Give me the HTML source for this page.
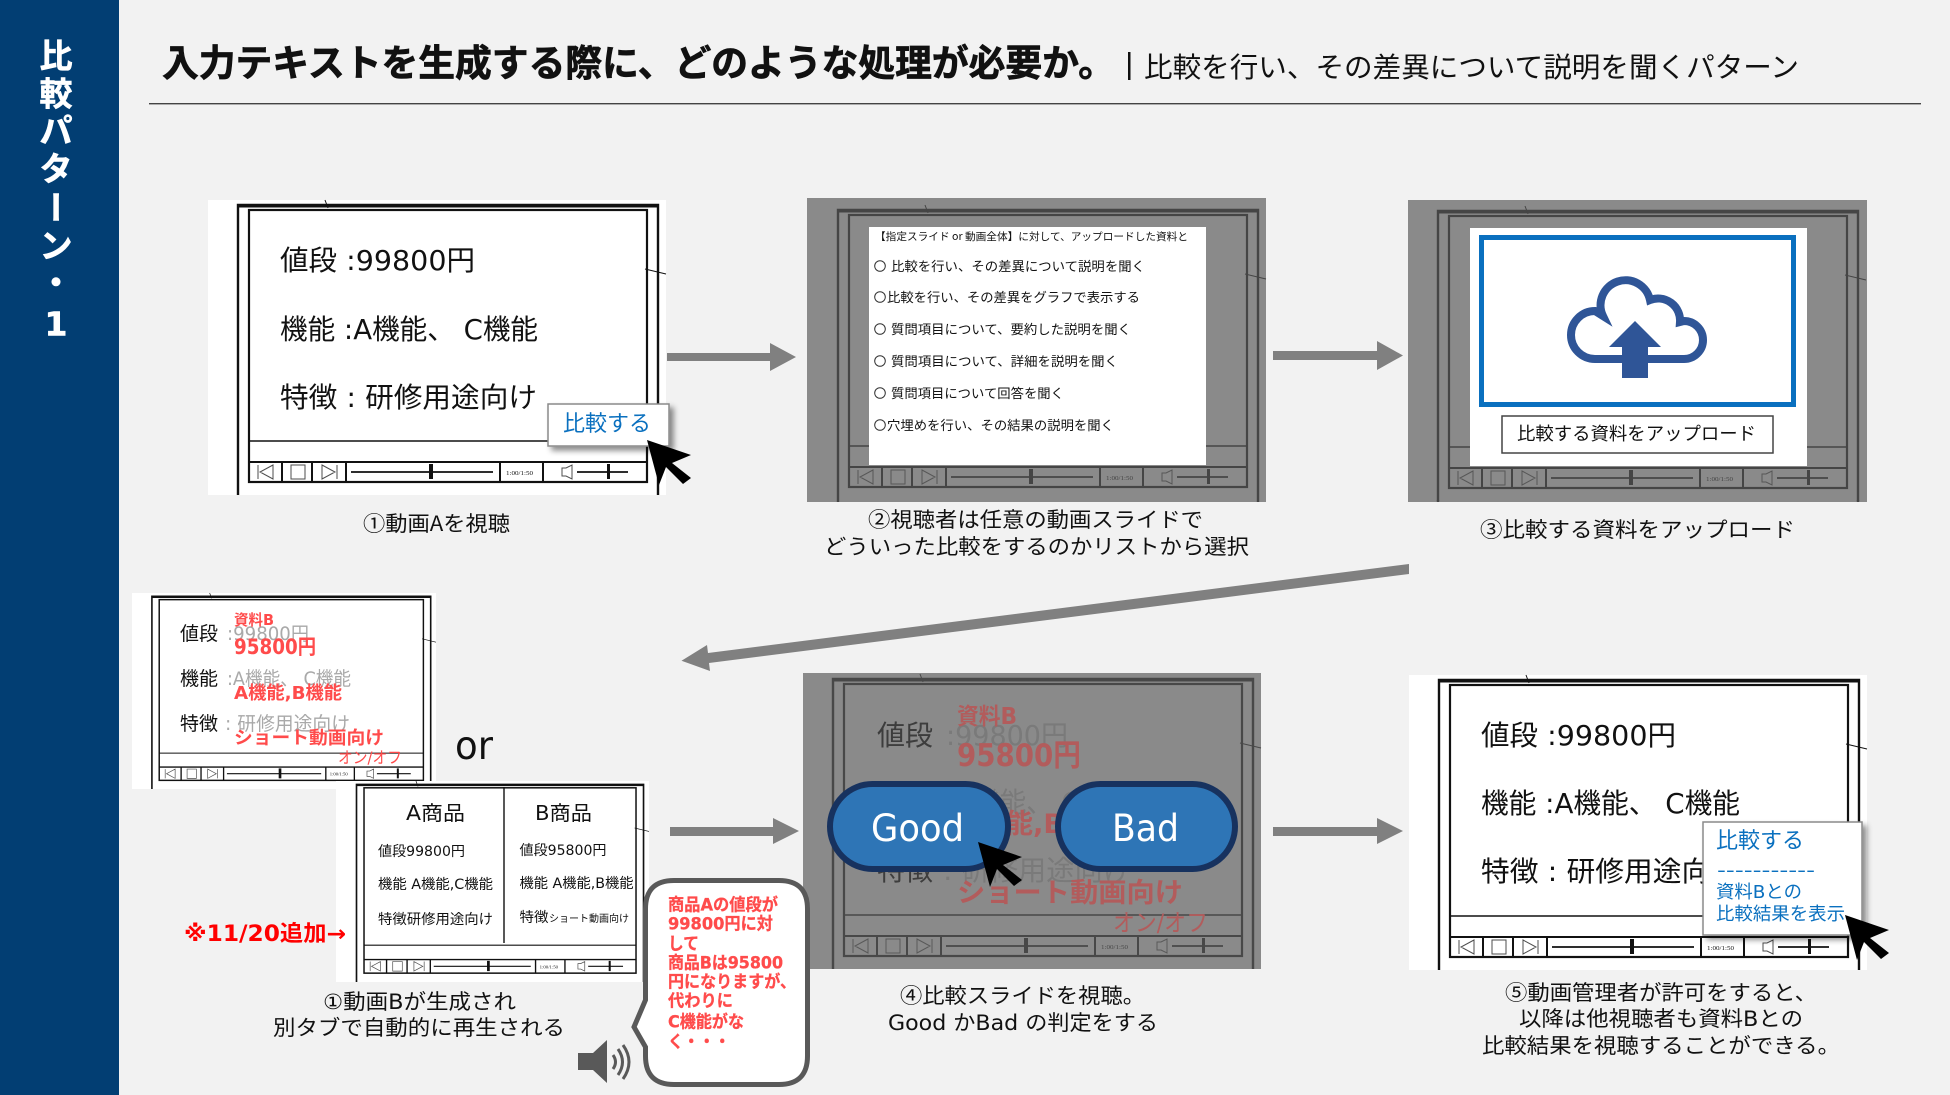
<!DOCTYPE html>
<html lang="ja"><head><meta charset="utf-8"><title>比較パターン・1</title>
<style>
html,body{margin:0;padding:0;background:#f2f2f2}
svg{display:block}
text{font-family:"DejaVu Sans","Noto Sans CJK JP",sans-serif;fill:#111}
.j{font-family:"Noto Sans CJK JP",sans-serif}
.b{font-weight:700}
.r{fill:#ff4b4b}
.g{fill:#a9a9a9}
.bl{fill:#0a70bf}
.dr{fill:#b25c5c}
.dg{fill:#7a7a7a}
.dk{fill:#3d3d3d}
.s text{fill:#fff;stroke:#fff;stroke-width:.6}
.tt{stroke:#111;stroke-width:.7}
.hv{stroke:#ff4b4b;stroke-width:.3}
</style></head><body>
<svg xmlns="http://www.w3.org/2000/svg" width="1950" height="1095" viewBox="0 0 1950 1095">
<defs>
<filter id="sh" x="-20%" y="-20%" width="150%" height="150%"><feDropShadow dx="4" dy="4" stdDeviation="3" flood-color="#000" flood-opacity=".45"/></filter>
<symbol id="wf" viewBox="0 0 458 295" preserveAspectRatio="none" overflow="visible">
<g fill="none" stroke="currentColor">
<path d="M30 295V5H450V295" stroke-width="2.4"/>
<path d="M30 6H450" stroke-width="3"/>
<path d="M117 0l3 8M437 69l21 5" stroke-width="1"/>
<rect x="41" y="10" width="398" height="272" stroke-width="2.2"/>
<path d="M41 241H439" stroke-width="1.6"/>
<path d="M41 262H439M74 262V282M104 262V282M138 262V282M292 262V282M335 262V282" stroke-width="2"/>
<path d="M50 265V279M65 265L52 272L65 279Z M83 265h14v14h-14Z M129 265V279M114 265L127 272L114 279Z M354 268h4l6-3v14l-6-3h-4Z" stroke-width="1" opacity=".75"/>
<path d="M143 272H285M369 272H420" stroke-width="1.7"/>
</g>
<rect x="221" y="264" width="4" height="15" fill="currentColor"/>
<rect x="399" y="264" width="3" height="15" fill="currentColor"/>
<text x="298" y="275" font-size="6" textLength="27" lengthAdjust="spacingAndGlyphs" style="font-family:'Liberation Serif',serif;fill:currentColor">1:00/1:50</text>
</symbol>
<polygon id="cur" points="0,0 44,15 25,23 44,38 36,44 19,27 12,45" fill="#000"/>
</defs>

<rect width="1950" height="1095" fill="#f2f2f2"/>
<rect width="119" height="1095" fill="#023e73"/>
<g class="s b" font-size="33" text-anchor="middle">
<text x="56" y="67.5" class="b">比</text>
<text x="56" y="105.5" class="b">較</text>
<text x="56" y="142.5" class="b">パ</text>
<text x="56" y="180.5" class="b">タ</text>
<text transform="translate(56,207) rotate(90)" x="0" y="12.5" class="b j">ー</text>
<text x="56" y="257.5" class="b">ン</text>
<text x="56" y="294.5" class="b j">・</text>
<text x="56" y="335.5" class="b">1</text>
</g>

<text x="162" y="76" font-size="37" class="b j tt" textLength="953" lengthAdjust="spacingAndGlyphs">入力テキストを生成する際に、どのような処理が必要か。</text>
<rect x="1128" y="52" width="2.5" height="28" fill="#111"/>
<text x="1144" y="77" font-size="28" class="j" textLength="655" lengthAdjust="spacingAndGlyphs">比較を行い、その差異について説明を聞くパターン</text>
<rect x="149" y="103" width="1772" height="1.4" fill="#444"/>

<!-- Panel 1 -->
<rect x="208" y="200" width="458" height="295" fill="#fff"/>
<use href="#wf" x="208" y="200" width="458" height="295" style="color:#111"/>
<text x="280" y="270" font-size="28" textLength="195" lengthAdjust="spacingAndGlyphs">値段 :99800円</text>
<text x="280" y="339" font-size="28" textLength="258" lengthAdjust="spacingAndGlyphs">機能 :A機能、 C機能</text>
<text x="280" y="407" font-size="28" textLength="257" lengthAdjust="spacingAndGlyphs">特徴 : 研修用途向け</text>
<rect x="548" y="404" width="121" height="42" fill="#fff" stroke="#8a8a8a" stroke-width="1.5" filter="url(#sh)"/>
<text x="563" y="431" font-size="22" class="bl j" textLength="88" lengthAdjust="spacingAndGlyphs">比較する</text>
<use href="#cur" x="647" y="440"/>
<text x="363" y="531" font-size="21" class="j" textLength="147" lengthAdjust="spacingAndGlyphs">①動画Aを視聴</text>

<!-- Arrows -->
<path d="M667 353H770V343L796 357L770 371V361H667Z" fill="#808080"/>
<path d="M1273 351H1377V341L1403 355.5L1377 370V360H1273Z" fill="#808080"/>
<path d="M670 827H773V818L799 831L773 844V836H670Z" fill="#808080"/>
<path d="M1273 827H1377V818L1403 831L1377 844V836H1273Z" fill="#808080"/>
<path d="M1409 564L708 653L707 645L681.5 660.7L710 671L709 663L1409 574Z" fill="#808080"/>

<!-- Panel 2 -->
<rect x="807" y="198" width="459" height="304" fill="#8a8a8a"/>
<use href="#wf" x="808" y="205" width="458" height="295" style="color:#454545"/>
<path d="M838 500v2M1258 500v2" stroke="#454545" stroke-width="2.4"/>
<rect x="869" y="227" width="337" height="238" fill="#fff"/>
<text x="875" y="240" font-size="10.5" class="j" textLength="313" lengthAdjust="spacingAndGlyphs">【指定スライド or 動画全体】に対して、アップロードした資料と</text>
<g fill="none" stroke="#333" stroke-width="1">
<circle cx="880" cy="266" r="5.3"/><circle cx="880" cy="297" r="5.3"/><circle cx="880" cy="329" r="5.3"/><circle cx="880" cy="361" r="5.3"/><circle cx="880" cy="393" r="5.3"/><circle cx="880" cy="425" r="5.3"/>
</g>
<g font-size="13">
<text x="891" y="271" class="j" textLength="254" lengthAdjust="spacingAndGlyphs">比較を行い、その差異について説明を聞く</text>
<text x="887" y="302" class="j" textLength="253" lengthAdjust="spacingAndGlyphs">比較を行い、その差異をグラフで表示する</text>
<text x="891" y="334" class="j" textLength="240" lengthAdjust="spacingAndGlyphs">質問項目について、要約した説明を聞く</text>
<text x="891" y="366" class="j" textLength="227" lengthAdjust="spacingAndGlyphs">質問項目について、詳細を説明を聞く</text>
<text x="891" y="398" class="j" textLength="173" lengthAdjust="spacingAndGlyphs">質問項目について回答を聞く</text>
<text x="887" y="430" class="j" textLength="227" lengthAdjust="spacingAndGlyphs">穴埋めを行い、その結果の説明を聞く</text>
</g>
<text x="868" y="527" font-size="21" class="j" textLength="335" lengthAdjust="spacingAndGlyphs">②視聴者は任意の動画スライドで</text>
<text x="824" y="554" font-size="21" class="j" textLength="425" lengthAdjust="spacingAndGlyphs">どういった比較をするのかリストから選択</text>

<!-- Panel 3 -->
<rect x="1408" y="200" width="459" height="302" fill="#8a8a8a"/>
<use href="#wf" x="1408" y="206" width="458" height="295" style="color:#454545"/>
<path d="M1438 500v2M1858 500v2" stroke="#454545" stroke-width="2.4"/>
<rect x="1470" y="228" width="337" height="238" fill="#fff"/>
<rect x="1481.5" y="237.5" width="312" height="167" fill="#fff" stroke="#0a70bf" stroke-width="5"/>
<path d="M1622 359H1595A24 24 0 0 1 1595 311L1603 316A25 25 0 1 1 1650 300A22 22 0 0 1 1680 322L1684 321A19 19 0 0 1 1684 359H1648" fill="none" stroke="#2f5597" stroke-width="8"/>
<path d="M1635 321L1661 347H1648V378H1622V347H1609Z" fill="#2f5597"/>
<rect x="1502" y="416" width="271" height="37" fill="#fff" stroke="#444" stroke-width="1.5"/>
<text x="1517" y="440" font-size="18" class="j" textLength="239" lengthAdjust="spacingAndGlyphs">比較する資料をアップロード</text>
<text x="1480" y="537" font-size="21" class="j" textLength="315" lengthAdjust="spacingAndGlyphs">③比較する資料をアップロード</text>

<!-- Generated B1 -->
<rect x="132" y="593" width="304" height="196" fill="#fff"/>
<use href="#wf" x="132" y="593" width="304" height="196" style="color:#111"/>
<text x="180" y="640" font-size="19" class="j">値段</text>
<text x="180" y="685" font-size="19" class="j">機能</text>
<text x="180" y="730" font-size="19" class="j">特徴</text>
<text x="227" y="640" font-size="19" class="g" textLength="82" lengthAdjust="spacingAndGlyphs">:99800円</text>
<text x="227" y="685" font-size="19" class="g" textLength="124" lengthAdjust="spacingAndGlyphs">:A機能、 C機能</text>
<text x="225" y="730" font-size="19" class="g" textLength="125" lengthAdjust="spacingAndGlyphs">: 研修用途向け</text>
<text x="234" y="625" font-size="15" class="r b" textLength="40" lengthAdjust="spacingAndGlyphs">資料B</text>
<text x="234" y="654" font-size="21" class="r b" textLength="82" lengthAdjust="spacingAndGlyphs">95800円</text>
<text x="234" y="699" font-size="18" class="r b" textLength="108" lengthAdjust="spacingAndGlyphs">A機能,B機能</text>
<text x="234" y="744" font-size="18" class="r b j" textLength="150" lengthAdjust="spacingAndGlyphs">ショート動画向け</text>
<text x="338" y="763" font-size="16" class="r" textLength="64" lengthAdjust="spacingAndGlyphs">オン/オフ</text>
<text x="455" y="759" font-size="39" textLength="38" lengthAdjust="spacingAndGlyphs">or</text>

<!-- Generated B2 -->
<rect x="336" y="781" width="313" height="201" fill="#fff"/>
<use href="#wf" x="336" y="781" width="313" height="201" style="color:#111"/>
<path d="M504 787V943" stroke="#111" stroke-width="1.4"/>
<text x="406" y="820" font-size="20" textLength="59" lengthAdjust="spacingAndGlyphs">A商品</text>
<text x="535" y="820" font-size="20" textLength="57" lengthAdjust="spacingAndGlyphs">B商品</text>
<text x="378" y="856" font-size="14" textLength="87" lengthAdjust="spacingAndGlyphs">値段99800円</text>
<text x="378" y="889" font-size="14" textLength="115" lengthAdjust="spacingAndGlyphs">機能 A機能,C機能</text>
<text x="378" y="924" font-size="14" class="j" textLength="115" lengthAdjust="spacingAndGlyphs">特徴研修用途向け</text>
<text x="519.5" y="855" font-size="14" textLength="87" lengthAdjust="spacingAndGlyphs">値段95800円</text>
<text x="519.5" y="888" font-size="14" textLength="114" lengthAdjust="spacingAndGlyphs">機能 A機能,B機能</text>
<text x="519.5" y="922" font-size="14" class="j" textLength="29" lengthAdjust="spacingAndGlyphs">特徴</text>
<text x="549" y="922" font-size="10" class="j" textLength="80" lengthAdjust="spacingAndGlyphs">ショート動画向け</text>

<text x="184" y="941" font-size="22" class="b" style="fill:#ff0000" textLength="162" lengthAdjust="spacingAndGlyphs">※11/20追加→</text>
<text x="323" y="1009" font-size="21" textLength="193" lengthAdjust="spacingAndGlyphs">①動画Bが生成され</text>
<text x="273" y="1035" font-size="21" class="j" textLength="292" lengthAdjust="spacingAndGlyphs">別タブで自動的に再生される</text>

<!-- Speaker -->
<path d="M578 1053H593L607 1040V1083L593 1070H578Z" fill="#595959"/>
<g fill="none" stroke="#595959" stroke-width="3">
<path d="M613 1055Q618 1062 613 1069"/><path d="M618 1049Q627 1062 618 1075"/><path d="M623 1045Q635 1062 623 1079"/>
</g>

<!-- Panel 4 -->
<rect x="803" y="673" width="458" height="296" fill="#8a8a8a"/>
<use href="#wf" x="803" y="674" width="458" height="295" style="color:#484848"/>
<text x="877" y="745" font-size="28" class="dk j">値段</text>
<text x="877" y="812" font-size="28" class="dk j">機能</text>
<text x="877" y="880" font-size="28" class="dk j">特徴</text>
<text x="946" y="745" font-size="28" class="dg" textLength="122" lengthAdjust="spacingAndGlyphs">:99800円</text>
<text x="946" y="812" font-size="28" class="dg" textLength="187" lengthAdjust="spacingAndGlyphs">:A機能、 C機能</text>
<text x="943" y="880" font-size="28" class="dg" textLength="188" lengthAdjust="spacingAndGlyphs">: 研修用途向け</text>
<text x="957" y="724" font-size="23" class="dr b" textLength="60" lengthAdjust="spacingAndGlyphs">資料B</text>
<text x="957" y="766" font-size="31" class="dr b" textLength="124" lengthAdjust="spacingAndGlyphs">95800円</text>
<text x="957" y="833" font-size="27" class="dr b" textLength="162" lengthAdjust="spacingAndGlyphs">A機能,B機能</text>
<text x="957" y="902" font-size="27" class="dr b j" textLength="226" lengthAdjust="spacingAndGlyphs">ショート動画向け</text>
<text x="1113" y="931" font-size="24" class="dr" textLength="95" lengthAdjust="spacingAndGlyphs">オン/オフ</text>
<rect x="830" y="784" width="178" height="85" rx="42.5" fill="#2e75b6" stroke="#17325f" stroke-width="6"/>
<rect x="1058" y="784" width="177" height="85" rx="42.5" fill="#2e75b6" stroke="#17325f" stroke-width="6"/>
<text x="871" y="841" font-size="37" style="fill:#fff" textLength="93" lengthAdjust="spacingAndGlyphs">Good</text>
<text x="1112" y="841" font-size="37" style="fill:#fff" textLength="67" lengthAdjust="spacingAndGlyphs">Bad</text>
<use href="#cur" x="978" y="842"/>
<text x="900" y="1003" font-size="21" class="j" textLength="245" lengthAdjust="spacingAndGlyphs">④比較スライドを視聴。</text>
<text x="888" y="1030" font-size="21" textLength="270" lengthAdjust="spacingAndGlyphs">Good かBad の判定をする</text>

<!-- Callout -->
<path d="M674 880.5H779Q807.5 880.5 807.5 909V1056Q807.5 1084.5 779 1084.5H674Q645.5 1084.5 645.5 1056V1047L634 1027L645.5 1000V909Q645.5 880.5 674 880.5Z" fill="#fff" stroke="#595959" stroke-width="5"/>
<g font-size="17">
<text x="668" y="910.5" class="r b hv" textLength="110" lengthAdjust="spacingAndGlyphs">商品Aの値段が</text>
<text x="668" y="929.5" class="r b hv" textLength="105" lengthAdjust="spacingAndGlyphs">99800円に対</text>
<text x="668" y="949.5" class="r b j hv" textLength="31" lengthAdjust="spacingAndGlyphs">して</text>
<text x="668" y="968.5" class="r b hv" textLength="115" lengthAdjust="spacingAndGlyphs">商品Bは95800</text>
<text x="668" y="987.5" class="r b j hv" textLength="128" lengthAdjust="spacingAndGlyphs">円になりますが、</text>
<text x="668" y="1006.5" class="r b j hv" textLength="65" lengthAdjust="spacingAndGlyphs">代わりに</text>
<text x="668" y="1027.5" class="r b hv" textLength="76" lengthAdjust="spacingAndGlyphs">C機能がな</text>
<text x="668" y="1047.5" class="r b j hv" textLength="62" lengthAdjust="spacingAndGlyphs">く・・・</text>
</g>

<!-- Panel 5 -->
<rect x="1409" y="675" width="458" height="295" fill="#fff"/>
<use href="#wf" x="1409" y="675" width="458" height="295" style="color:#111"/>
<text x="1481" y="745" font-size="28" textLength="195" lengthAdjust="spacingAndGlyphs">値段 :99800円</text>
<text x="1481" y="813" font-size="28" textLength="259" lengthAdjust="spacingAndGlyphs">機能 :A機能、 C機能</text>
<text x="1481" y="881" font-size="28" textLength="258" lengthAdjust="spacingAndGlyphs">特徴 : 研修用途向け</text>
<rect x="1703" y="822" width="159" height="113" fill="#fff" stroke="#8a8a8a" stroke-width="1.5" filter="url(#sh)"/>
<text x="1716" y="848" font-size="22" class="bl j" textLength="88" lengthAdjust="spacingAndGlyphs">比較する</text>
<text x="1717" y="876" font-size="18" class="bl" textLength="98" lengthAdjust="spacingAndGlyphs">-----------</text>
<text x="1716" y="898" font-size="18" class="bl" textLength="86" lengthAdjust="spacingAndGlyphs">資料Bとの</text>
<text x="1716" y="920" font-size="18" class="bl j" textLength="129" lengthAdjust="spacingAndGlyphs">比較結果を表示</text>
<use href="#cur" x="1845" y="915"/>
<text x="1505" y="1000" font-size="21" class="j" textLength="312" lengthAdjust="spacingAndGlyphs">⑤動画管理者が許可をすると、</text>
<text x="1519" y="1026" font-size="21" textLength="284" lengthAdjust="spacingAndGlyphs">以降は他視聴者も資料Bとの</text>
<text x="1482" y="1053" font-size="21" class="j" textLength="358" lengthAdjust="spacingAndGlyphs">比較結果を視聴することができる。</text>
</svg>
</body></html>
